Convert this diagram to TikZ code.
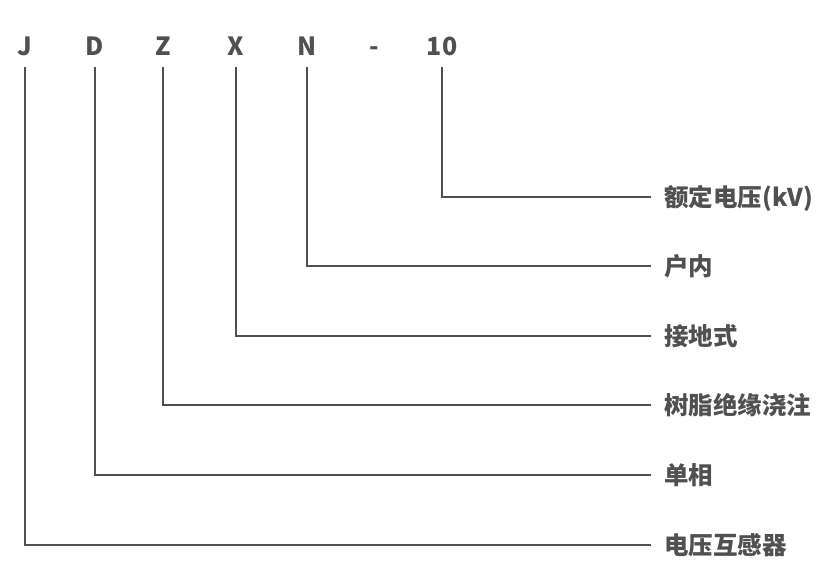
\documentclass[tikz,border=0pt]{standalone}
\usepackage{fontspec}
\usepackage{tikz}
\usepackage{xcolor}
\newfontfamily\cjk{Noto Sans CJK SC}
\definecolor{inkgray}{HTML}{505050}
\tikzset{
    code-letter/.style = {font=\cjk\bfseries\fontsize{25}{25}\selectfont, text=inkgray, inner sep=0pt, text height=18pt, text depth=0pt, anchor=south},
    meaning-label/.style = {font=\cjk\bfseries\fontsize{24.5}{24.5}\selectfont, text=inkgray, inner xsep=13pt, inner ysep=0pt, text height=19pt, text depth=0pt, anchor=west},
    lead-line/.style = {draw=inkgray, line width=1.7pt, shorten <=11pt},
}

\begin{document}
\begin{tikzpicture}[x=1pt, y=-1pt]
\useasboundingbox (0,0) rectangle (826,572);
\node [code-letter] (J) at (25,56) {J};
\node [code-letter] (D) at (95,56) {D};
\node [code-letter] (Z) at (163,56) {Z};
\node [code-letter] (X) at (236,56) {X};
\node [code-letter] (N) at (307,56) {N};
\node [code-letter] (dash) at (374,56) {-};
\node [code-letter] (ten) at (442,56) {10};

\node [meaning-label] (voltage) at (651,197) {额定电压(kV)};
\node [meaning-label] (indoor) at (651,266) {户内};
\node [meaning-label] (ground) at (651,336) {接地式};
\node [meaning-label] (resin) at (651,405) {树脂绝缘浇注};
\node [meaning-label] (single) at (651,475) {单相};
\node [meaning-label] (vt) at (651,545) {电压互感器};

\draw [lead-line] (ten) |- (voltage);
\draw [lead-line] (N) |- (indoor);
\draw [lead-line] (X) |- (ground);
\draw [lead-line] (Z) |- (resin);
\draw [lead-line] (D) |- (single);
\draw [lead-line] (J) |- (vt);
\end{tikzpicture}
\end{document}
